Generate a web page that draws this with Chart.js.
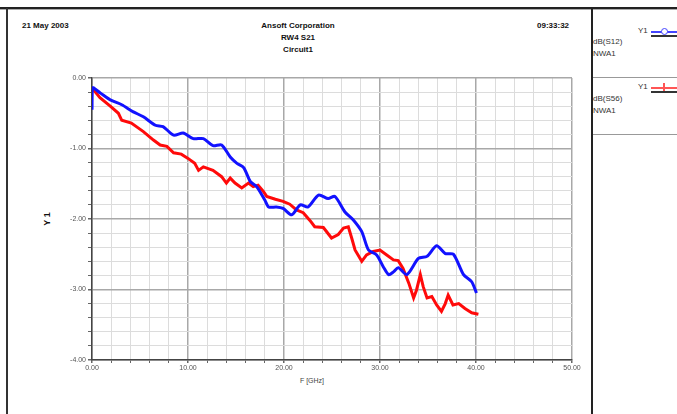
<!DOCTYPE html>
<html><head><meta charset="utf-8">
<script src="https://cdn.jsdelivr.net/npm/chart.js@4/dist/chart.umd.min.js"></script>
<style>
html,body{margin:0;padding:0;background:#fff;}
body{width:677px;height:414px;position:relative;overflow:hidden;font-family:"Liberation Sans",Arial,sans-serif;}
.t{position:absolute;white-space:nowrap;color:#111;}
.b{font-weight:bold;font-size:8px;}
.s{font-size:8px;color:#333;}
.line{position:absolute;}
#wrap{position:absolute;left:0;top:0;width:677px;height:414px;}
</style></head><body>
<div class="line" style="left:0;top:7px;width:677px;height:2px;background:#222"></div>
<div class="line" style="left:0;top:9px;width:677px;height:1px;background:#aaa"></div>
<div class="line" style="left:6px;top:8px;width:1.5px;height:406px;background:#333"></div>
<div class="line" style="left:591px;top:8px;width:2px;height:406px;background:#222"></div>
<div class="line" style="left:593px;top:77px;width:84px;height:1px;background:#999"></div>
<div class="line" style="left:593px;top:134px;width:84px;height:1px;background:#999"></div>

<div class="t b" style="left:22px;top:21px;">21 May 2003</div>
<div class="t b" style="left:298px;top:21px;transform:translateX(-50%);">Ansoft Corporation</div>
<div class="t b" style="left:298px;top:33px;transform:translateX(-50%);">RW4 S21</div>
<div class="t b" style="left:298px;top:45px;transform:translateX(-50%);">Circuit1</div>
<div class="t b" style="left:537px;top:21px;">09:33:32</div>

<div class="t s" style="left:638px;top:26px;">Y1</div>
<div class="line" style="left:651px;top:31px;width:26px;height:1.5px;background:#4444ff"></div>
<div class="line" style="left:661px;top:28px;width:5px;height:5px;border:1px solid #4444ff;border-radius:50%;background:#fff"></div>
<div class="line" style="left:651px;top:35px;width:26px;height:1.5px;background:#333"></div>
<div class="t s" style="left:593px;top:37px;">dB(S12)</div>
<div class="t s" style="left:593px;top:49px;">NWA1</div>

<div class="t s" style="left:638px;top:82px;">Y1</div>
<div class="line" style="left:651px;top:87px;width:26px;height:1.5px;background:#ff5555"></div>
<div class="line" style="left:663px;top:83px;width:1.5px;height:9px;background:#ff5555"></div>
<div class="line" style="left:651px;top:91px;width:26px;height:1.5px;background:#333"></div>
<div class="t s" style="left:593px;top:94px;">dB(S56)</div>
<div class="t s" style="left:593px;top:106px;">NWA1</div>

<div class="t" style="left:312px;top:377px;font-size:7px;color:#444;transform:translateX(-50%);">F [GHz]</div>
<div class="t b" style="left:47px;top:219px;font-size:9px;transform:translate(-50%,-50%) rotate(-90deg);">Y 1</div>

<div id="wrap"><canvas id="c" width="677" height="414"></canvas></div>
<script>
const blueFreq=[0,0.05,0.83,1.9,3.1,4.3,5.35,6.6,7.4,8.5,9.5,10.55,11.6,12.6,13.5,14.4,15.1,15.8,16.5,17.15,18.0,18.4,19.2,19.9,20.8,21.7,22.5,23.6,24.6,25.3,26.35,27.2,28.1,28.8,29.65,30.35,30.9,31.4,31.9,32.8,34.0,34.9,35.9,36.8,37.65,38.7,39.55,40.05];
const blueVal=[-0.45,-0.14,-0.21,-0.31,-0.38,-0.48,-0.55,-0.67,-0.69,-0.81,-0.78,-0.86,-0.86,-0.96,-0.95,-1.12,-1.21,-1.27,-1.47,-1.54,-1.73,-1.83,-1.83,-1.85,-1.94,-1.80,-1.83,-1.66,-1.71,-1.68,-1.90,-2.01,-2.18,-2.44,-2.51,-2.68,-2.79,-2.75,-2.69,-2.79,-2.56,-2.53,-2.38,-2.49,-2.50,-2.79,-2.89,-3.05];
const redFreq=[0,0.83,1.9,2.75,3.1,4.1,5.35,6.4,7.1,7.8,8.5,9.3,10.0,10.7,11.1,11.6,12.6,13.5,14.0,14.4,14.9,15.6,16.3,16.8,17.3,17.85,18.2,19.1,19.9,20.6,21.3,22.0,22.7,23.2,24.1,24.95,25.65,26.2,26.7,27.05,27.4,28.1,28.6,29.3,30.0,30.7,31.4,31.9,32.4,33.0,33.5,33.8,34.2,34.5,34.9,35.4,35.9,36.4,36.8,37.1,37.6,38.2,38.85,39.55,40.25];
const redVal=[-0.14,-0.28,-0.40,-0.50,-0.60,-0.64,-0.76,-0.88,-0.95,-0.97,-1.06,-1.08,-1.14,-1.21,-1.31,-1.26,-1.31,-1.40,-1.49,-1.42,-1.49,-1.56,-1.49,-1.54,-1.52,-1.61,-1.68,-1.72,-1.75,-1.79,-1.87,-1.91,-2.02,-2.11,-2.12,-2.27,-2.22,-2.13,-2.11,-2.27,-2.44,-2.60,-2.51,-2.46,-2.44,-2.51,-2.58,-2.59,-2.70,-2.91,-3.12,-3.01,-2.79,-2.96,-3.12,-3.10,-3.22,-3.31,-3.20,-3.08,-3.22,-3.20,-3.27,-3.33,-3.35];
const xTickLabels=['0.00','10.00','20.00','30.00','40.00','50.00'];
const yTickLabels=['0.00','-1.00','-2.00','-3.00','-4.00'];
const seriesNames=['dB(S12)','dB(S56)'];

const pts=(f,v)=>f.map((x,i)=>({x:x,y:v[i]}));
const isMajor=(v,step)=>Math.abs(v/step-Math.round(v/step))<1e-6;
new Chart(document.getElementById('c'),{
  type:'line',
  data:{datasets:[
    {label:seriesNames[0],data:pts(blueFreq,blueVal),borderColor:'#1212ff',borderWidth:3,pointRadius:0,tension:0.25,fill:false},
    {label:seriesNames[1],data:pts(redFreq,redVal),borderColor:'#ff0a0a',borderWidth:3,pointRadius:0,tension:0,fill:false}
  ]},
  options:{
    responsive:false,animation:false,
    layout:{padding:{left:52,top:78,right:105,bottom:36}},
    plugins:{legend:{display:false},tooltip:{enabled:false}},
    scales:{
      x:{type:'linear',min:0,max:50,
        afterFit:s=>{s.height=18;},
        ticks:{stepSize:2,autoSkip:false,maxRotation:0,color:'#555',font:{size:7,family:'Liberation Sans'},padding:1,
          callback:v=>isMajor(v,10)?xTickLabels[Math.round(v/10)]:''},
        grid:{color:c=>(c.tick&&isMajor(c.tick.value,10))?'#a8a8a8':'#dcdcdc',lineWidth:c=>(c.tick&&isMajor(c.tick.value,10))?1.5:1,
          tickLength:3,tickColor:'#666'},
        border:{color:'#444',width:1.5}
      },
      y:{type:'linear',min:-4,max:0,
        afterFit:s=>{s.width=40;},
        ticks:{stepSize:0.2,autoSkip:false,color:'#555',font:{size:7,family:'Liberation Sans'},padding:2,
          callback:v=>isMajor(v,1)?yTickLabels[Math.round(-v)]:''},
        grid:{color:c=>(c.tick&&isMajor(c.tick.value,1))?'#a8a8a8':'#dcdcdc',lineWidth:c=>(c.tick&&isMajor(c.tick.value,1))?1.5:1,
          tickLength:4,tickColor:'#666'},
        border:{color:'#444',width:1.5}
      }
    }
  }
});
</script>
</body></html>
